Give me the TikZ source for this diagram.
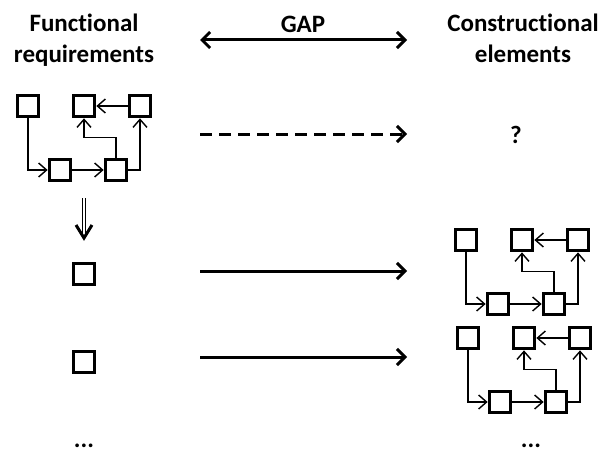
\documentclass[tikz,border=0pt]{standalone}
\usepackage{fontspec}
\setmainfont{Carlito}[Ligatures=NoCommon]
\usetikzlibrary{arrows.meta}

\tikzset{
  blk/.style={draw, line width=3.2pt, minimum size=21.5pt, inner sep=0pt},
  link/.style={line width=1.4pt, -{Straight Barb[length=8pt,width=14pt,line width=1.4pt]}},
  tip/.tip={Straight Barb[length=8pt,width=16pt,line width=3pt]},
  bigarrow/.style={line width=3pt, -tip},
  title/.style={font=\fontsize{25}{31}\selectfont\bfseries, align=center, inner sep=0pt}
}

\begin{document}
\begin{tikzpicture}[x=1pt,y=-1pt]
\useasboundingbox (0,0) rectangle (601,452);

\node[title, anchor=north] (func) at (84,14) {Functional\\requirements};
\node[title, anchor=north] (cons) at (523,14) {Constructional\\elements};
\node[title, anchor=base] (gap) at (303,33) {GAP};

% the same small network three times
\foreach \p/\dx/\dy in {f/0/0, r/438/134, s/440/232}{
  \node[blk] (\p1) at (28+\dx,106+\dy) {};
  \node[blk] (\p2) at (84+\dx,106+\dy) {};
  \node[blk] (\p3) at (140+\dx,106+\dy) {};
  \node[blk] (\p4) at (60+\dx,170+\dy) {};
  \node[blk] (\p5) at (116+\dx,170+\dy) {};
  \draw[link] (\p1.south) |- (\p4.west);
  \draw[link] (\p4) -- (\p5);
  \draw[link] (\p5.north) -- ++(0,-20) -| (\p2.south);
  \draw[link] (\p5.east) -| (\p3.south);
  \draw[link] (\p3) -- (\p2);
}

\node[blk] (one) at (84,274) {};
\node[blk] (two) at (84,362) {};
\node[title, anchor=base] (dotsl) at (84,447) {...};
\node[title, anchor=base] (dotsr) at (531,447) {...};
\node[title] (quest) at (516,135) {?};

\coordinate (ga) at (200,40);
\coordinate (gb) at (407,40);
\draw[bigarrow, tip-tip] (ga) -- (gb);

\coordinate (da) at (200,134);
\coordinate (db) at (407,134);
\draw[bigarrow, dash pattern=on 12pt off 7pt] (da) -- (db);

\coordinate (oa) at (200,271);
\coordinate (ob) at (407,271);
\draw[bigarrow] (oa) -- (ob);

\coordinate (ta) at (200,357);
\coordinate (tb) at (407,357);
\draw[bigarrow] (ta) -- (tb);

% double down arrow
\coordinate (va) at (84,198);
\coordinate (vb) at (84,238);
\draw[double, double distance=1.8pt, line width=1pt, shorten >=2pt] (va) -- (vb);
\draw[line width=3pt, line join=miter] (vb) ++(-8,-13) -- (vb) -- ++(8,-13);
\end{tikzpicture}
\end{document}
